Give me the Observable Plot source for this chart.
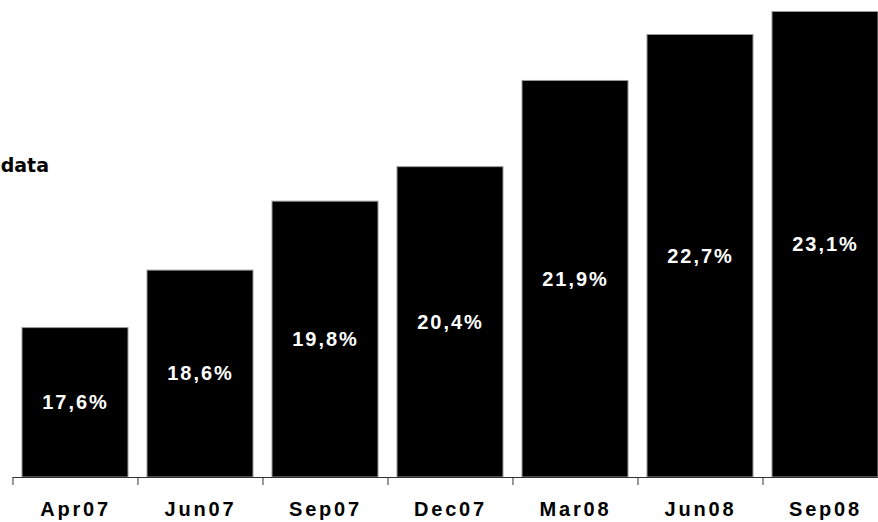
<!DOCTYPE html>
<html>
<head>
<meta charset="utf-8">
<script src="https://cdn.jsdelivr.net/npm/d3@7"></script>
<script src="https://cdn.jsdelivr.net/npm/@observablehq/plot@0.6"></script>
<style>
  html, body { margin: 0; padding: 0; background: #fff; overflow: hidden; }
  #wrap { position: relative; width: 878px; height: 522px; overflow: hidden; }
  #wrap svg { letter-spacing: 2px; }
  #wrap svg g[aria-label="x-axis tick label"] text { letter-spacing: 2.8px; }
  #note { position: absolute; left: 0; top: 154px; width: 49px; text-align: right;
          font: bold 19px "DejaVu Sans", sans-serif; color: #000; white-space: nowrap; }
</style>
</head>
<body>
<div id="wrap"><div id="note">data</div></div>
<script>
const periods = ["Apr07", "Jun07", "Sep07", "Dec07", "Mar08", "Jun08", "Sep08"];
const shares = [17.6, 18.6, 19.8, 20.4, 21.9, 22.7, 23.1];
const labels = ["17,6%", "18,6%", "19,8%", "20,4%", "21,9%", "22,7%", "23,1%"];
const baseValue = 15;

const data = periods.map((p, i) => ({period: p, value: shares[i], label: labels[i]}));

const W = 878, H = 522;
const xStart = 12.7, xEnd = 888;
const step = (xEnd - xStart) / periods.length;

const chart = Plot.plot({
  width: W,
  height: H,
  marginTop: 0,
  marginBottom: 45,
  marginLeft: xStart,
  marginRight: 0,
  x: {domain: periods, range: [xStart, xEnd], paddingInner: 0.15, paddingOuter: 0.075, align: 0.5, label: null},
  y: {domain: [baseValue, 23.3], label: null, axis: null},
  style: {background: "#fff"},
  marks: [
    Plot.barY(data, {x: "period", y1: () => baseValue, y2: "value", fill: "#000", stroke: "#9a9a9a", strokeWidth: 1}),
    Plot.ruleY([baseValue], {stroke: "#333", strokeWidth: 1}),
    Plot.axisX({tickSize: 8, tickFormat: () => "", dx: -step / 2, stroke: "#333", label: null}),
    Plot.axisX({tickSize: 0, tickPadding: 24, fontSize: 20, fontWeight: "bold", fontFamily: "Liberation Sans, Arial, sans-serif", fill: "#000", label: null}),
    Plot.text(data, {x: "period", y: d => (baseValue + d.value) / 2, text: "label", fill: "#fff", fontSize: 20, fontWeight: "bold", fontFamily: "Liberation Sans, Arial, sans-serif"})
  ]
});
document.getElementById("wrap").prepend(chart);
</script>
</body>
</html>
